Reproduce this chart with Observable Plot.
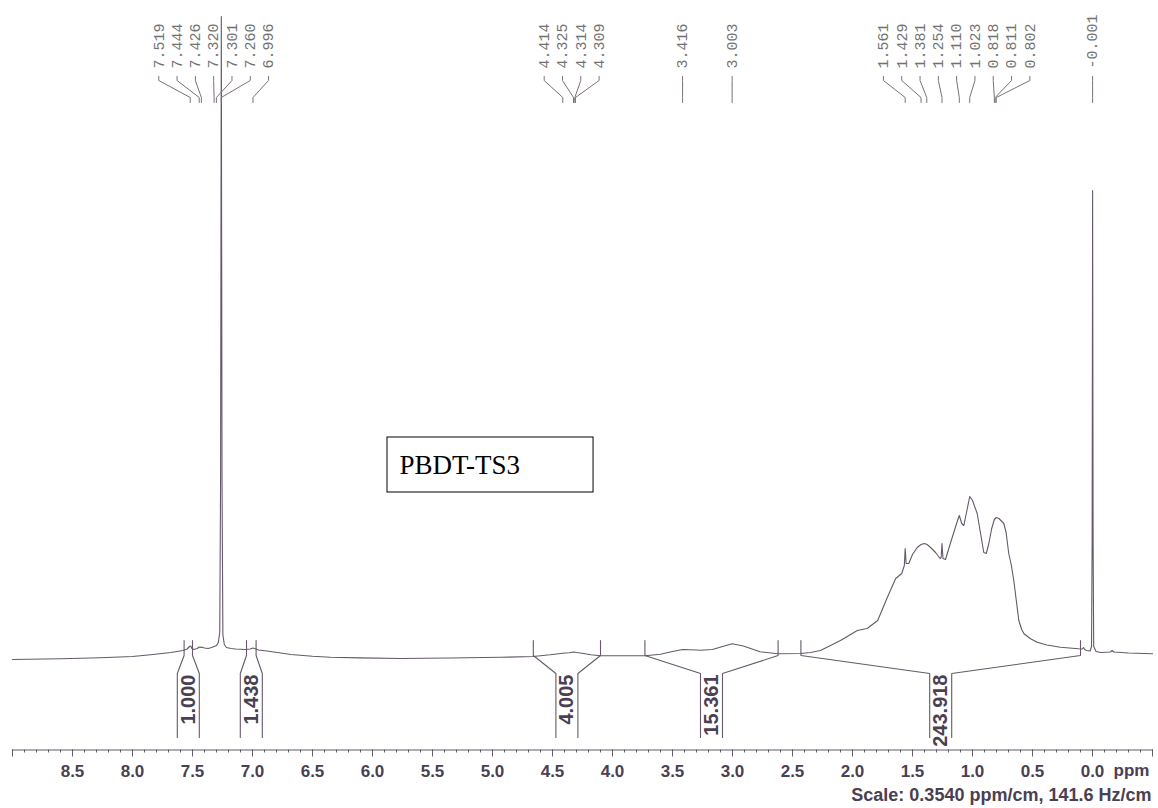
<!DOCTYPE html>
<html>
<head>
<meta charset="utf-8">
<script src="https://cdn.jsdelivr.net/npm/d3@7"></script>
<script src="https://cdn.jsdelivr.net/npm/@observablehq/plot@0.6"></script>
<style>
  body { margin: 0; background: #fff; }
  #chart svg { display: block; }
</style>
</head>
<body>
<div id="chart"></div>
<script>
// ---------- data ----------
const shiftPpm = [
  9.00, 8.60, 8.27, 8.00, 7.85, 7.68, 7.58, 7.545, 7.525, 7.515, 7.505, 7.49, 7.46, 7.444, 7.435, 7.426,
  7.40, 7.37, 7.34, 7.32, 7.30, 7.285, 7.273, 7.266, 7.260, 7.254, 7.247, 7.235, 7.217, 7.18, 7.14, 7.06,
  7.02, 6.996, 6.97, 6.95, 6.85, 6.68, 6.50, 6.35, 6.10, 5.77, 5.35, 4.93, 4.66, 4.52, 4.414, 4.36,
  4.325, 4.30, 4.267, 4.18, 4.10, 3.93, 3.73, 3.60, 3.50, 3.416, 3.30, 3.267, 3.167, 3.083, 3.003, 2.91,
  2.77, 2.62, 2.43, 2.35, 2.267, 2.10, 1.96, 1.90, 1.878, 1.79, 1.71, 1.64, 1.59, 1.568, 1.561, 1.553,
  1.531, 1.50, 1.461, 1.429, 1.40, 1.378, 1.34, 1.308, 1.27, 1.261, 1.254, 1.246, 1.225, 1.19, 1.169, 1.13,
  1.110, 1.09, 1.072, 1.05, 1.023, 1.00, 0.961, 0.93, 0.906, 0.885, 0.864, 0.84, 0.818, 0.802, 0.78, 0.739,
  0.72, 0.698, 0.676, 0.656, 0.635, 0.614, 0.59, 0.572, 0.52, 0.461, 0.38, 0.267, 0.117, 0.085, 0.075, 0.065,
  0.05, 0.02, 0.008, 0.003, -0.001, -0.005, -0.010, -0.03, -0.067, -0.15, -0.164, -0.178, -0.30, -0.50
];
const intensity = [
  1.0, 1.7, 2.7, 4.0, 5.7, 8.0, 10, 11.5, 14, 14.5, 12, 11, 12, 13.5, 13, 13.5,
  12.5, 12, 13, 14, 15, 18, 28, 180, 644, 180, 26, 16, 13, 12, 11.5, 11,
  11.5, 12.5, 11.5, 10.5, 9, 6, 4.3, 3.3, 2.6, 2, 2.5, 3.2, 4, 5.7, 7.3, 7.8,
  8.5, 8, 7.5, 5.7, 4.7, 4.7, 4.7, 6.3, 9, 11, 10.5, 10.3, 11, 14, 16.7, 14.5,
  8.7, 6.7, 7, 8, 10, 20, 30, 31.5, 32, 40, 63, 82, 87, 95, 112, 97,
  97, 106, 113, 116, 117, 116, 112, 108, 102, 103, 117, 102, 101, 115, 123, 138,
  145, 137, 135, 148, 164, 160, 147, 125, 108, 107, 117, 132, 141, 143, 142, 137,
  128, 107, 95, 80, 60, 40, 31, 27, 22, 18.3, 15.5, 13.3, 11.7, 11.5, 13, 11,
  10, 9.5, 14, 120, 470, 120, 14, 9, 8, 8.5, 10, 8.5, 7.5, 6.7
];
const peakShifts = [7.519, 7.444, 7.426, 7.320, 7.301, 7.260, 6.996,
  4.414, 4.325, 4.314, 4.309, 3.416, 3.003,
  1.561, 1.429, 1.381, 1.254, 1.110, 1.023, 0.818, 0.811, 0.802, -0.001];
const integralStart = [7.57, 7.05, 4.66, 3.73, 2.43];
const integralEnd   = [7.50, 6.97, 4.10, 2.62, 0.10];
const integralValue = [1.000, 1.438, 4.005, 15.361, 243.918];
const majorTicks = d3.range(-1, 19).map(i => i * 0.5);   // -0.5 … 9.0
const minorTicks = d3.range(-5, 91).map(i => i / 10);
const sampleName = "PBDT-TS3";
const unitLabel = "ppm";
const scaleNote = "Scale: 0.3540 ppm/cm, 141.6 Hz/cm";

// ---------- layout ----------
const W = 1158, H = 808, mL = 12, mR = 6, mT = 10, mB = 58.5;
const baselinePx = 660;                       // pixel row of zero intensity
const Y = px => baselinePx - px;              // pixel row -> intensity units (1 unit = 1 px)
const xDomain = [9, -0.5];
const ppmPerPx = (xDomain[0] - xDomain[1]) / (W - mL - mR);
const ink = "#4b4052", lineInk = "#65596a", labelInk = "#727272";

// spectrum table
const spectrum = shiftPpm.map((s, i) => ({s, v: intensity[i]}));

// spread peak labels into evenly spaced columns
const colSp = 18.3 * ppmPerPx;
let clusters = [...peakShifts].sort((a, b) => b - a).map(p => ({items: [p], c: p}));
let merged = true;
while (merged) {
  merged = false;
  for (let i = 0; i < clusters.length - 1; i++) {
    const A = clusters[i], B = clusters[i + 1];
    const aLast = A.c - (A.items.length - 1) / 2 * colSp;
    const bFirst = B.c + (B.items.length - 1) / 2 * colSp;
    if (aLast - bFirst < colSp) {
      const items = A.items.concat(B.items);
      clusters.splice(i, 2, {items, c: d3.mean(items)});
      merged = true; break;
    }
  }
}
const peakLabels = [];
clusters.forEach(cl => cl.items.forEach((p, j) => {
  peakLabels.push({p, col: cl.c + ((cl.items.length - 1) / 2 - j) * colSp, text: p.toFixed(3)});
}));
const connectors = [];
peakLabels.forEach((d, i) => {
  connectors.push({id: i, x: d.col, y: Y(76)});
  connectors.push({id: i, x: d.col, y: Y(80)});
  connectors.push({id: i, x: d.p, y: Y(97)});
  connectors.push({id: i, x: d.p, y: Y(102)});
});

// integral brackets
const halfGap = 11 * ppmPerPx;
const integrals = integralValue.map((v, i) => {
  const a = integralStart[i], b = integralEnd[i], c = (a + b) / 2;
  return {a, b, c, text: v.toFixed(3)};
});
const brackets = [];
integrals.forEach((d, i) => {
  [[d.a, d.c + halfGap], [d.b, d.c - halfGap]].forEach(([edge, inner], k) => {
    const id = i * 2 + k;
    brackets.push({id, x: edge, y: Y(640)});
    brackets.push({id, x: edge, y: Y(655)});
    brackets.push({id, x: inner, y: Y(673)});
    brackets.push({id, x: inner, y: Y(737)});
  });
});

// sample-name box (annotation)
const box = [{x1: 5.875, x2: 4.158, y1: Y(437), y2: Y(492), tx: 5.775, ty: Y(465), text: sampleName}];

const chart = Plot.plot({
  width: W, height: H,
  marginLeft: mL, marginRight: mR, marginTop: mT, marginBottom: mB,
  style: {background: "#fff", color: ink, overflow: "visible"},
  x: {domain: xDomain, label: null, axis: null},
  y: {domain: [Y(H - mB), Y(mT)], axis: null, label: null},
  marks: [
    Plot.frame({anchor: "bottom", stroke: lineInk}),
    Plot.axisX({ticks: minorTicks, tickSize: 3, tickFormat: () => "", stroke: lineInk, label: null}),
    Plot.axisX({
      ticks: majorTicks, tickSize: 7, tickPadding: 8, label: null, stroke: lineInk,
      tickFormat: d => (d >= 0 && d <= 8.5 ? Math.abs(d).toFixed(1) : ""),
      fontSize: 17, fontWeight: "bold", fontFamily: "Liberation Sans, Arial, sans-serif"
    }),
    Plot.text([{s: 0, t: unitLabel}], {
      x: "s", text: "t", frameAnchor: "bottom", dy: 26, dx: 21, textAnchor: "start",
      fontSize: 17, fontWeight: "bold", fontFamily: "Liberation Sans, Arial, sans-serif", fill: ink
    }),
    Plot.text([scaleNote], {
      frameAnchor: "bottom-right", dy: 51, dx: -1, textAnchor: "end",
      fontSize: 18, fontWeight: "bold", fontFamily: "Liberation Sans, Arial, sans-serif", fill: ink
    }),
    Plot.line(spectrum, {x: "s", y: "v", stroke: lineInk, strokeWidth: 1.1, curve: "linear"}),
    Plot.line(brackets, {x: "x", y: "y", z: "id", stroke: lineInk, strokeWidth: 1.1}),
    Plot.text(integrals, {
      x: "c", y: () => Y(674), text: "text", rotate: -90, textAnchor: "end",
      fontSize: 20, fontWeight: "bold",
      fontFamily: "Liberation Sans Narrow, Arial Narrow, Liberation Sans, sans-serif", fill: ink
    }),
    Plot.line(connectors, {x: "x", y: "y", z: "id", stroke: "#7a707a", strokeWidth: 1}),
    Plot.text(peakLabels, {
      x: "col", y: () => Y(68), text: "text", rotate: -90, textAnchor: "start",
      fontSize: 15, fontFamily: "Liberation Mono, DejaVu Sans Mono, monospace", fill: labelInk
    }),
    Plot.rect(box, {x1: "x1", x2: "x2", y1: "y1", y2: "y2", fill: "#fff", stroke: "#000", strokeWidth: 1}),
    Plot.text(box, {
      x: "tx", y: "ty", text: "text", textAnchor: "start",
      fontSize: 27, fontFamily: "Liberation Serif, serif", fill: "#000"
    })
  ]
});
document.getElementById("chart").appendChild(chart);
</script>
</body>
</html>
